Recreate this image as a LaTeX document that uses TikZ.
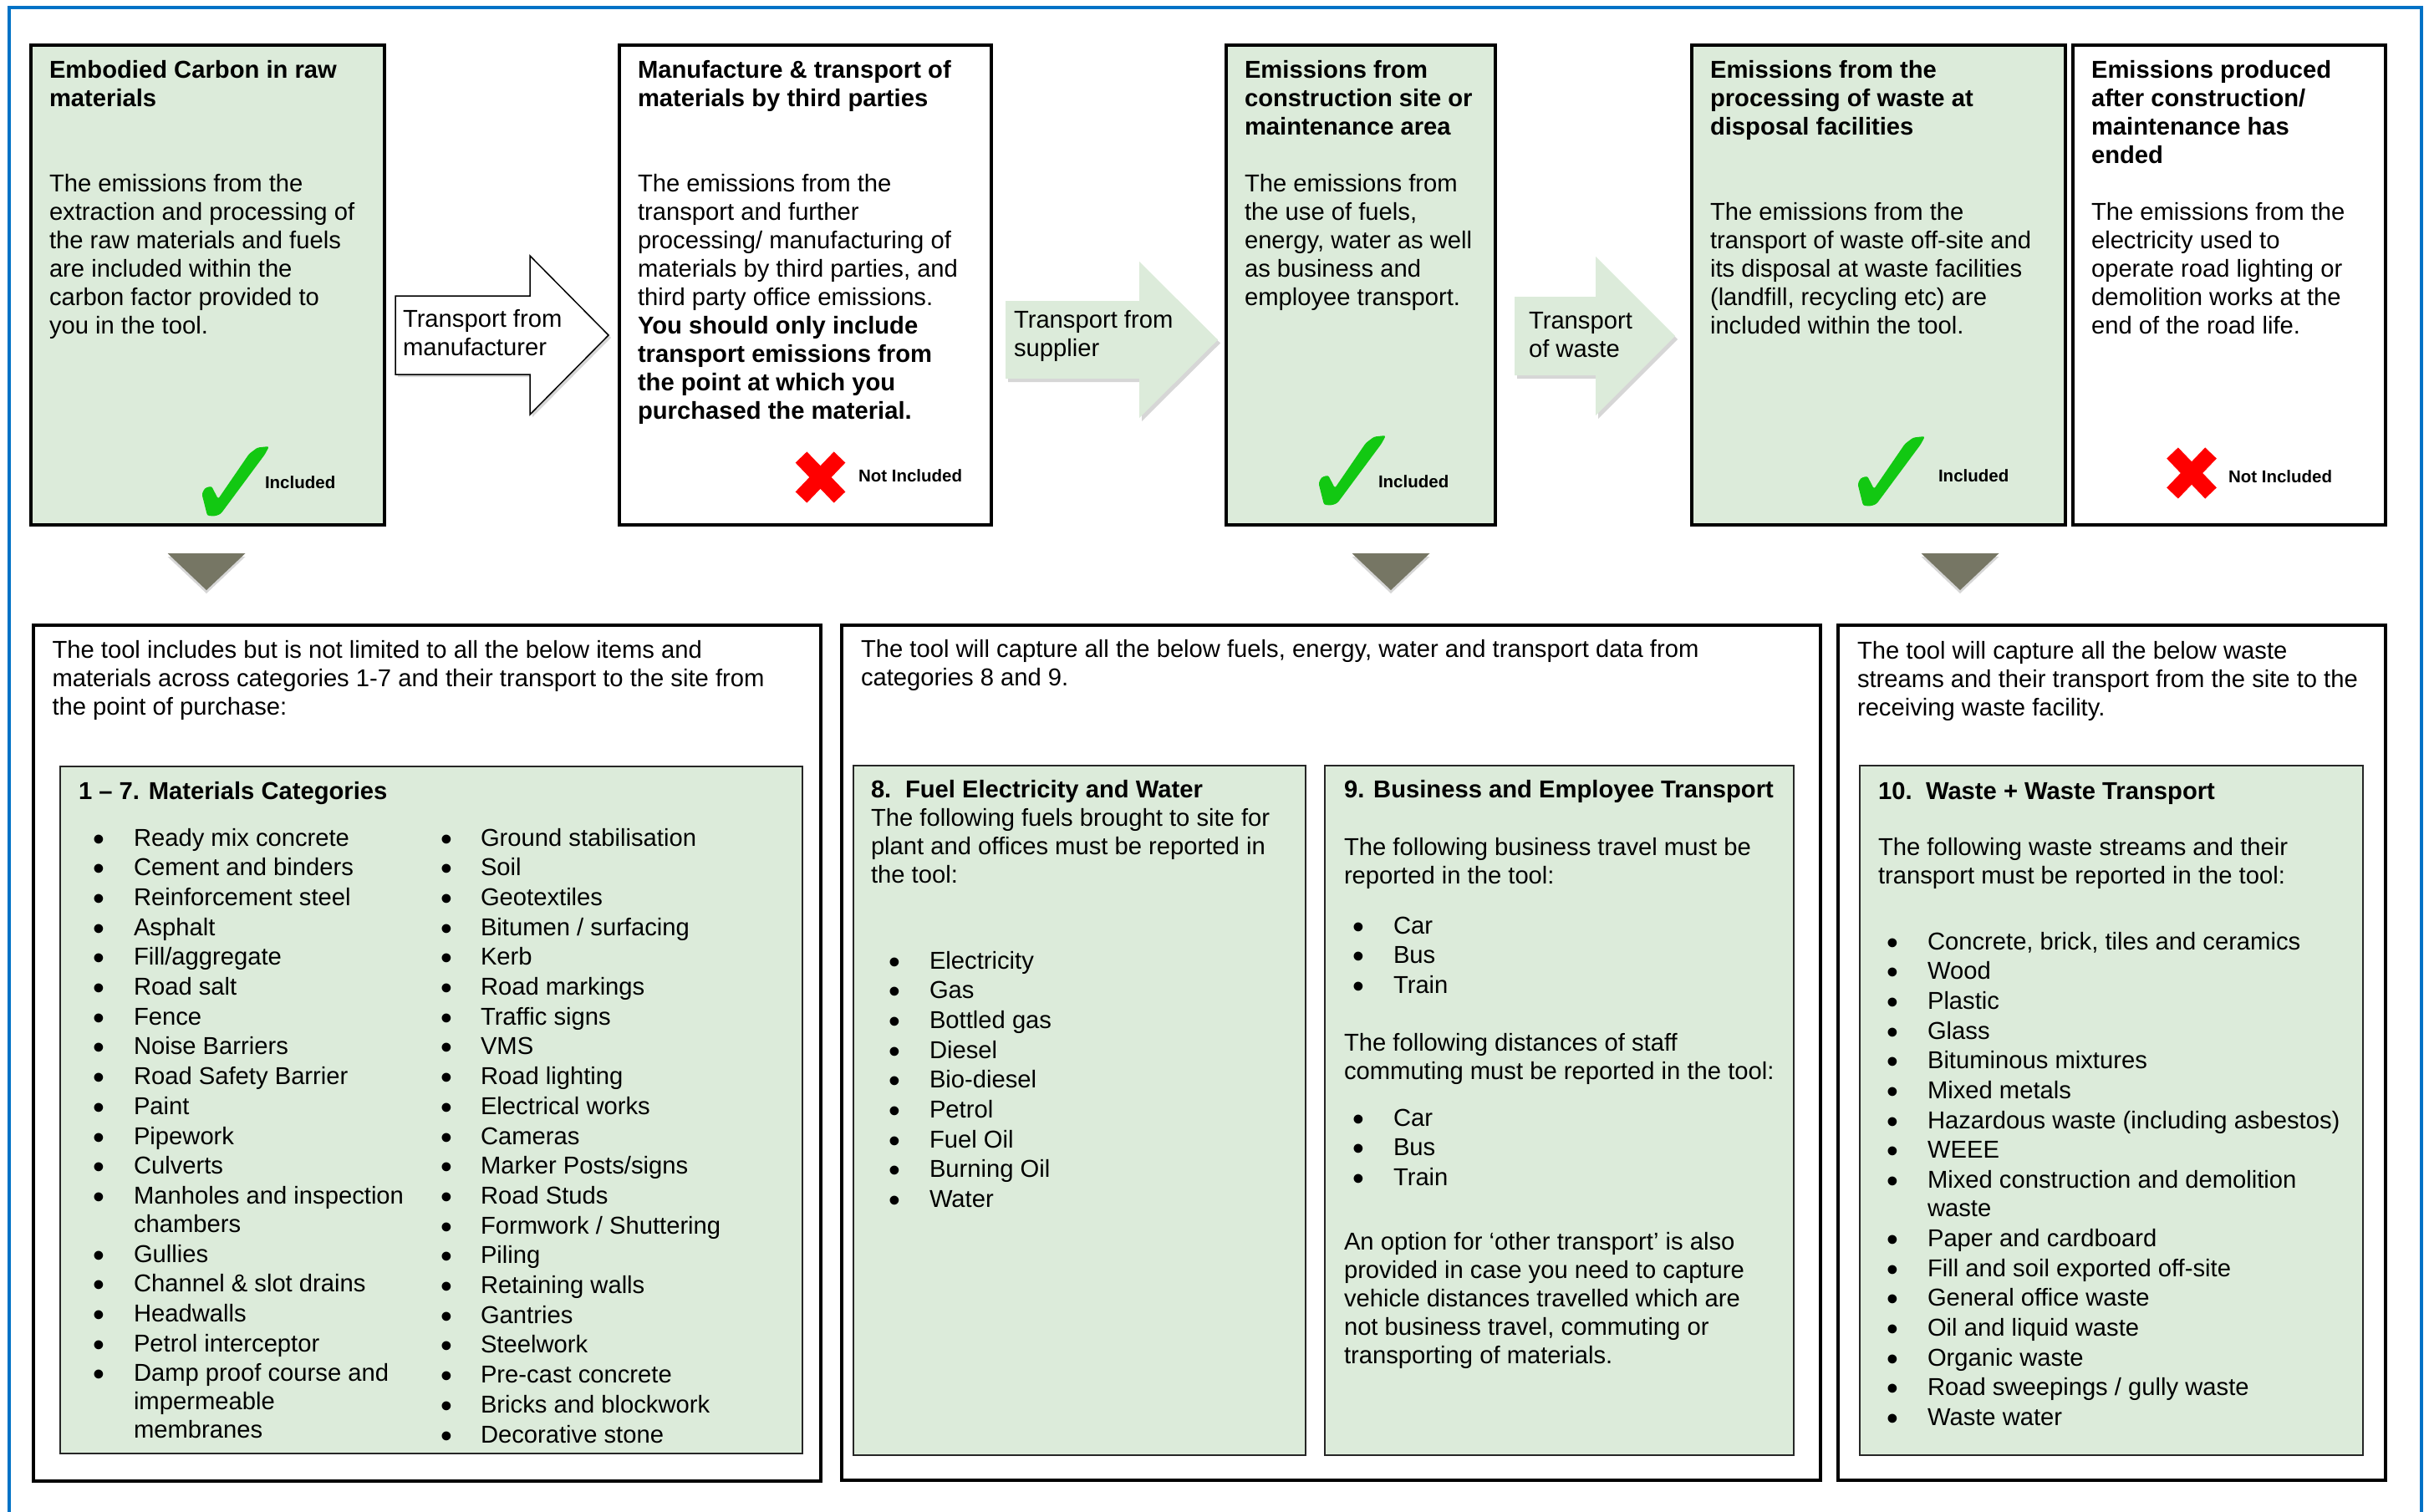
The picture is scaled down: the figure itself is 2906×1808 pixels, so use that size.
\documentclass[tikz,border=0pt]{standalone}
\usepackage{fontspec}
\usepackage{graphicx}
\setmainfont{Liberation Sans}
\definecolor{lgreen}{RGB}{220,235,218}
\definecolor{chkgreen}{RGB}{18,200,18}
\definecolor{frameblue}{RGB}{0,114,198}
\definecolor{trigray}{RGB}{118,118,100}
\newcommand\bodyfont{\fontsize{29.2}{34}\selectfont}
\newcommand\smallbold{\fontsize{20.5}{24}\selectfont\bfseries}
\newcommand\blk[1]{\vtop{\bodyfont\baselineskip=34pt\lineskiplimit=-1000pt\lineskip=0pt\relax #1}}
\newcommand\rl[1]{\hbox{#1}}
\newdimen\bw
\newcommand\bi[1]{\hbox{\hbox to\bw{\hskip-1.8pt\raisebox{-5pt}{\scalebox{1.35}{\textbullet}}\hss}#1}}
\newcommand\cont[1]{\hbox{\hskip\bw #1}}
\newcommand\isep{\vskip1.7pt}
\begin{document}
\begin{tikzpicture}[x=1pt,y=-1pt,
  txt/.style={anchor=base west, inner sep=0, outer sep=0},
  topbox/.style={draw=black, line width=3.5, anchor=north west, inner sep=0, outer sep=0, minimum height=574},
  outbox/.style={draw=black, line width=3.5, anchor=north west, inner sep=0, outer sep=0},
  inbox/.style={draw=black!85, fill=lgreen, line width=2.5, anchor=north west, inner sep=0, outer sep=0},
  shade/.style={fill=black, opacity=0.16},
  checkmark/.pic={\fill[chkgreen, rounded corners=2.5] (7,83) -- (0.5,57) -- (4,50) -- (12,47.5) -- (20,63) -- (57,9) -- (67,1.5) -- (81,0) -- (76,9.5) -- (23,81) -- (16,83.5) -- cycle;},
  crossmark/.pic={\draw[red, line width=19] (-23,-24) -- (23,24) (-23,24) -- (23,-24);}
]
\useasboundingbox (0,0) rectangle (2906,1808);
\clip (0,0) rectangle (2906,1808);
\fill[white] (0,0) rectangle (2906,1808);
\draw[frameblue, line width=4] (10.5,8.5) rectangle (2897,1850);

% ---------- top boxes ----------
\node[topbox, fill=lgreen, minimum width=423] (b1) at (37,54) {};
\node[topbox, fill=white, minimum width=445] (b2) at (741,54) {};
\node[topbox, fill=lgreen, minimum width=322] (b3) at (1467,54) {};
\node[topbox, fill=lgreen, minimum width=447] (b4) at (2024,54) {};
\node[topbox, fill=white, minimum width=374] (b5) at (2480,54) {};

\node[txt] (h1) at (59,93) {\blk{\bfseries\rl{Embodied Carbon in raw}\rl{materials}}};
\node[txt] (t1) at (59,229) {\blk{\rl{The emissions from the}\rl{extraction and processing of}\rl{the raw materials and fuels}\rl{are included within the}\rl{carbon factor provided to}\rl{you in the tool.}}};

\node[txt] (h2) at (763,93) {\blk{\bfseries\rl{Manufacture \& transport of}\rl{materials by third parties}}};
\node[txt] (t2) at (763,229) {\blk{\rl{The emissions from the}\rl{transport and further}\rl{processing/ manufacturing of}\rl{materials by third parties, and}\rl{third party office emissions.}\rl{\bfseries You should only include}\rl{\bfseries transport emissions from}\rl{\bfseries the point at which you}\rl{\bfseries purchased the material.}}};

\node[txt] (h3) at (1489,93) {\blk{\bfseries\rl{Emissions from}\rl{construction site or}\rl{maintenance area}}};
\node[txt] (t3) at (1489,229) {\blk{\rl{The emissions from}\rl{the use of fuels,}\rl{energy, water as well}\rl{as business and}\rl{employee transport.}}};

\node[txt] (h4) at (2046,93) {\blk{\bfseries\rl{Emissions from the}\rl{processing of waste at}\rl{disposal facilities}}};
\node[txt] (t4) at (2046,263) {\blk{\rl{The emissions from the}\rl{transport of waste off-site and}\rl{its disposal at waste facilities}\rl{(landfill, recycling etc) are}\rl{included within the tool.}}};

\node[txt] (h5) at (2502,93) {\blk{\bfseries\rl{Emissions produced}\rl{after construction/}\rl{maintenance has}\rl{ended}}};
\node[txt] (t5) at (2502,263) {\blk{\rl{The emissions from the}\rl{electricity used to}\rl{operate road lighting or}\rl{demolition works at the}\rl{end of the road life.}}};

% included / not included marks
\pic (ck1) at (241,534) {checkmark};
\pic (ck3) at (1577,521) {checkmark};
\pic (ck4) at (2222,522) {checkmark};
\node[txt] (in1) at (317,584) {\smallbold Included};
\node[txt] (in3) at (1649,583) {\smallbold Included};
\node[txt] (in4) at (2319,576) {\smallbold Included};
\pic (x2) at (981.5,571) {crossmark};
\pic (x5) at (2622,566) {crossmark};
\node[txt] (ni2) at (1027,576) {\smallbold Not Included};
\node[txt] (ni5) at (2666,577) {\smallbold Not Included};

% ---------- block arrows ----------
\fill[shade, shift={(3,3)}] (473,354) -- (634,354) -- (634,306) -- (728,401) -- (634,496) -- (634,448) -- (473,448) -- cycle;
\filldraw[fill=white, draw=black, line width=1.5] (473,354) -- (634,354) -- (634,306) -- (728,401) -- (634,496) -- (634,448) -- (473,448) -- cycle;
\node[txt] (a1) at (482,391) {\blk{\rl{Transport from}\rl{manufacturer}}};

\fill[shade, shift={(3,4)}] (1203,360) -- (1363,360) -- (1363,313) -- (1457,406.5) -- (1363,500) -- (1363,453) -- (1203,453) -- cycle;
\fill[lgreen] (1203,360) -- (1363,360) -- (1363,313) -- (1457,406.5) -- (1363,500) -- (1363,453) -- (1203,453) -- cycle;
\node[txt] (a2) at (1213,392) {\blk{\rl{Transport from}\rl{supplier}}};

\fill[shade, shift={(3,4)}] (1812,355) -- (1909,355) -- (1909,307) -- (2004,402) -- (1909,497) -- (1909,449) -- (1812,449) -- cycle;
\fill[lgreen] (1812,355) -- (1909,355) -- (1909,307) -- (2004,402) -- (1909,497) -- (1909,449) -- (1812,449) -- cycle;
\node[txt] (a3) at (1829,393) {\blk{\rl{Transport}\rl{of waste}}};

% ---------- down triangles ----------
\foreach \cx [count=\i] in {247,1664,2345}{
  \fill[shade, shift={(0,4)}] (\cx-46.5,662) -- (\cx+46.5,662) -- (\cx,706) -- cycle;
  \fill[trigray] (\cx-46.5,662) -- (\cx+46.5,662) -- (\cx,706) -- cycle;
}

% ---------- bottom boxes ----------
\node[outbox, minimum width=942, minimum height=1024] (bA) at (40,748) {};
\node[inbox, minimum width=888, minimum height=822] (iA) at (72,917) {};
\node[outbox, minimum width=1171, minimum height=1023] (bB) at (1007,748) {};
\node[inbox, minimum width=541, minimum height=825] (i8) at (1021,916) {};
\node[inbox, minimum width=561, minimum height=825] (i9) at (1585,916) {};
\node[outbox, minimum width=655, minimum height=1023] (bC) at (2199,748) {};
\node[inbox, minimum width=602, minimum height=825] (i10) at (2225,916) {};

% box A
\node[txt] (tA) at (62.5,787) {\blk{\rl{The tool includes but is not limited to all the below items and}\rl{materials across categories 1-7 and their transport to the site from}\rl{the point of purchase:}}};
\node[txt] (hA) at (94,956) {\blk{\bfseries\rl{1 – 7. Materials Categories}}};
\node[txt] (lA1) at (113.5,1012) {\bw=46.5pt\blk{\bi{Ready mix concrete}\isep\bi{Cement and binders}\isep\bi{Reinforcement steel}\isep\bi{Asphalt}\isep\bi{Fill/aggregate}\isep\bi{Road salt}\isep\bi{Fence}\isep\bi{Noise Barriers}\isep\bi{Road Safety Barrier}\isep\bi{Paint}\isep\bi{Pipework}\isep\bi{Culverts}\isep\bi{Manholes and inspection}\cont{chambers}\isep\bi{Gullies}\isep\bi{Channel \& slot drains}\isep\bi{Headwalls}\isep\bi{Petrol interceptor}\isep\bi{Damp proof course and}\cont{impermeable}\cont{membranes}}};
\node[txt] (lA2) at (529.3,1012) {\bw=45.7pt\blk{\bi{Ground stabilisation}\isep\bi{Soil}\isep\bi{Geotextiles}\isep\bi{Bitumen / surfacing}\isep\bi{Kerb}\isep\bi{Road markings}\isep\bi{Traffic signs}\isep\bi{VMS}\isep\bi{Road lighting}\isep\bi{Electrical works}\isep\bi{Cameras}\isep\bi{Marker Posts/signs}\isep\bi{Road Studs}\isep\bi{Formwork / Shuttering}\isep\bi{Piling}\isep\bi{Retaining walls}\isep\bi{Gantries}\isep\bi{Steelwork}\isep\bi{Pre-cast concrete}\isep\bi{Bricks and blockwork}\isep\bi{Decorative stone}}};

% box B
\node[txt] (tB) at (1030,786) {\blk{\rl{The tool will capture all the below fuels, energy, water and transport data from}\rl{categories 8 and 9.}}};
\node[txt] (h8) at (1042,954) {\blk{\rl{\bfseries\hbox to 41pt{8.\hss}Fuel Electricity and Water}\rl{The following fuels brought to site for}\rl{plant and offices must be reported in}\rl{the tool:}}};
\node[txt] (l8) at (1065,1159) {\bw=47pt\blk{\bi{Electricity}\isep\bi{Gas}\isep\bi{Bottled gas}\isep\bi{Diesel}\isep\bi{Bio-diesel}\isep\bi{Petrol}\isep\bi{Fuel Oil}\isep\bi{Burning Oil}\isep\bi{Water}}};

\node[txt] (h9) at (1608,954) {\blk{\bfseries\rl{9. Business and Employee Transport}}};
\node[txt] (p9a) at (1608,1023) {\blk{\rl{The following business travel must be}\rl{reported in the tool:}}};
\node[txt] (l9a) at (1620,1117) {\bw=47pt\blk{\bi{Car}\isep\bi{Bus}\isep\bi{Train}}};
\node[txt] (p9b) at (1608,1257) {\blk{\rl{The following distances of staff}\rl{commuting must be reported in the tool:}}};
\node[txt] (l9b) at (1620,1347) {\bw=47pt\blk{\bi{Car}\isep\bi{Bus}\isep\bi{Train}}};
\node[txt] (p9c) at (1608,1495) {\blk{\rl{An option for ‘other transport’ is also}\rl{provided in case you need to capture}\rl{vehicle distances travelled which are}\rl{not business travel, commuting or}\rl{transporting of materials.}}};

% box C
\node[txt] (tC) at (2222,788) {\blk{\rl{The tool will capture all the below waste}\rl{streams and their transport from the site to the}\rl{receiving waste facility.}}};
\node[txt] (h10) at (2247,956) {\blk{\rl{\bfseries\hbox to 57pt{10.\hss}Waste + Waste Transport}}};
\node[txt] (p10) at (2247,1023.6) {\blk{\rl{The following waste streams and their}\rl{transport must be reported in the tool:}}};
\node[txt] (l10) at (2259,1136) {\bw=47pt\blk{\bi{Concrete, brick, tiles and ceramics}\isep\bi{Wood}\isep\bi{Plastic}\isep\bi{Glass}\isep\bi{Bituminous mixtures}\isep\bi{Mixed metals}\isep\bi{Hazardous waste (including asbestos)}\isep\bi{WEEE}\isep\bi{Mixed construction and demolition}\cont{waste}\isep\bi{Paper and cardboard}\isep\bi{Fill and soil exported off-site}\isep\bi{General office waste}\isep\bi{Oil and liquid waste}\isep\bi{Organic waste}\isep\bi{Road sweepings / gully waste}\isep\bi{Waste water}}};
\end{tikzpicture}
\end{document}
